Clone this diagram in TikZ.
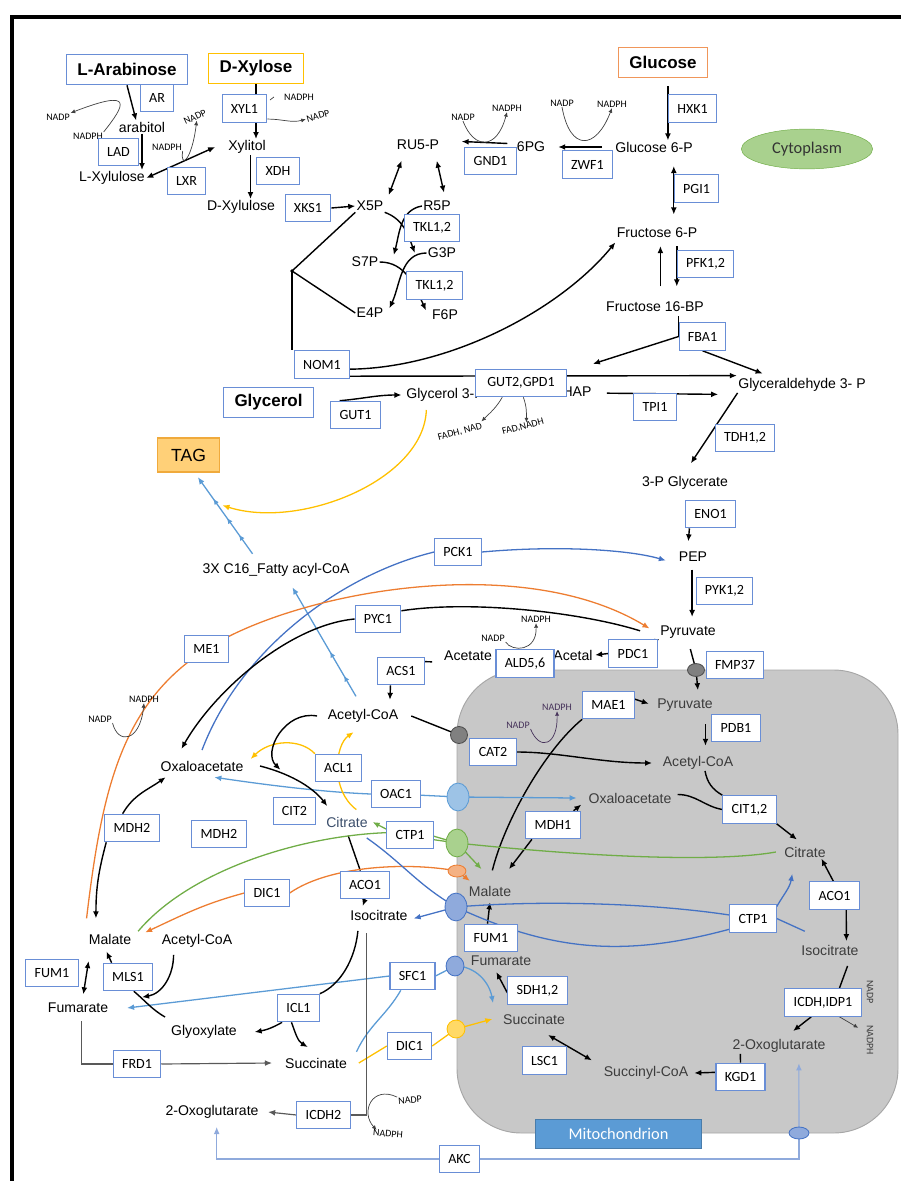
\documentclass[tikz,border=0pt]{standalone}
\usepackage{fontspec}
\setmainfont{Liberation Sans}
\newfontfamily\enzfont{Carlito}
\usepackage{xcolor}
\usepackage{tikz}
\usetikzlibrary{arrows.meta,shapes.geometric,decorations.markings}
\definecolor{boxblue}{RGB}{105,142,214}
\definecolor{pathblue}{RGB}{68,114,196}
\definecolor{lightblue}{RGB}{91,155,213}
\definecolor{midblue}{RGB}{143,170,220}
\definecolor{paleblue}{RGB}{157,195,230}
\definecolor{pathgreen}{RGB}{112,173,71}
\definecolor{palegreen}{RGB}{169,209,142}
\definecolor{pathorange}{RGB}{237,125,49}
\definecolor{salmon}{RGB}{244,177,131}
\definecolor{pathyellow}{RGB}{255,192,0}
\definecolor{paleyellow}{RGB}{255,217,102}
\definecolor{mitogray}{RGB}{200,200,200}
\definecolor{mitoborder}{RGB}{166,166,166}
\definecolor{mitotext}{RGB}{60,60,60}
\definecolor{mitolabel}{RGB}{91,155,213}
\definecolor{citblue}{RGB}{59,78,107}
\definecolor{cofpurple}{RGB}{70,50,90}
\definecolor{glucol}{RGB}{240,150,90}
\definecolor{tagfill}{RGB}{255,208,120}
\definecolor{tagborder}{RGB}{240,170,60}
\pgfdeclarelayer{bg}
\pgfdeclarelayer{edges}
\pgfsetlayers{bg,edges,main}

\begin{document}
\begin{tikzpicture}[
	x=0.03cm, y=-0.03cm,
	>={Latex[length=6pt,width=5pt]},
	met/.style={inner sep=1pt, font=\fontsize{12}{14}\selectfont},
	mito/.style={met, text=mitotext},
	enz/.style={draw=boxblue, fill=white, line width=0.9pt, inner xsep=7.5pt, inner ysep=2pt, minimum height=23.5pt, font=\enzfont\fontsize{12}{14}\selectfont},
	src/.style={draw=#1, fill=white, line width=0.9pt, inner xsep=9.5pt, minimum height=26pt, font=\bfseries\fontsize{14.5}{17}\selectfont},
	cof/.style={inner sep=0.5pt, font=\enzfont\fontsize{8.5}{9}\selectfont},
	port/.style={ellipse, draw=#1, line width=0.7pt, inner sep=0pt},
	rx/.style={->, line width=1.2pt},
	ln/.style={line width=1.2pt},
	cofarr/.style={->, >={Latex[length=4pt,width=3.5pt]}, line width=0.6pt, draw=black!75},
	grn/.style={draw=pathgreen, line width=1.1pt},
	org/.style={draw=pathorange, line width=1.1pt},
	yel/.style={draw=pathyellow, line width=1.1pt},
	pblue/.style={draw=pathblue, line width=1.1pt},
	lblue/.style={draw=lightblue, line width=1.1pt},
	akcline/.style={draw=midblue, line width=0.9pt},
	gline/.style={draw=black!65, line width=1pt}
	]
	\useasboundingbox (0,0) rectangle (901,1181);
	\begin{pgfonlayer}{bg}
		\draw[line width=4pt] (12,1181) -- (12,17) -- (901,17);
		\draw[fill=mitogray, draw=mitoborder, line width=0.8pt, rounded corners=55pt] (457,670) rectangle (898,1133);
	\end{pgfonlayer}

	\node[src=boxblue] (arab) at (127,69.5) {L-Arabinose};
	\node[src=pathyellow] (dxyl) at (256,68.5) {D-Xylose};
	\node[src=glucol] (gluc) at (663,62.5) {Glucose};
	\node[src=boxblue] (glyc) at (268.5,402.5) {Glycerol};
	\node[draw=tagborder, fill=tagfill, line width=0.9pt, minimum width=53pt, minimum height=29pt, font=\fontsize{15}{17}\selectfont] (tag) at (188.5,455) {TAG};
	\node[ellipse, draw=pathgreen, fill=palegreen, minimum width=112pt, minimum height=34pt, font=\enzfont\fontsize{14}{16}\selectfont, text=black!80] (cyto) at (807,149) {Cytoplasm};

	\node[met] (arabitol) at (142,127) {arabitol};
	\node[met] (lxylu) at (112,178) {L-Xylulose};
	\node[met] (xylitol) at (247,147) {Xylitol};
	\node[met] (dxylu) at (241,207) {D-Xylulose};
	\node[met] (ru5p) at (418,145) {RU5-P};
	\node[met] (pg6) at (531,147) {6PG};
	\node[met] (g6p) at (654,147) {Glucose 6-P};
	\node[met] (x5p) at (370,206) {X5P};
	\node[met] (r5p) at (437,206) {R5P};
	\node[met] (s7p) at (365,262) {S7P};
	\node[met] (g3p) at (442,253) {G3P};
	\node[met] (e4p) at (370,313) {E4P};
	\node[met] (f6p) at (445,315) {F6P};
	\node[met] (fru6p) at (657,233) {Fructose 6-P};
	\node[met] (fbp) at (655,307) {Fructose 16-BP};
	\node[met] (gap) at (802,385) {Glyceraldehyde 3- P};
	\node[met, anchor=west] (gly3p) at (405,395) {Glycerol 3-P};
	\node[met, anchor=west] (dhap) at (551,392) {DHAP};
	\node[met] (pga) at (685,483) {3-P Glycerate};
	\node[met] (pep) at (693,557) {PEP};
	\node[met] (pyrc) at (688,632) {Pyruvate};
	\node[met, anchor=west] (acetal) at (552,655) {Acetal};
	\node[met] (acetate) at (468,656) {Acetate};
	\node[met] (fatty) at (276,570) {3X C16\_Fatty acyl-CoA};
	\node[met] (accoac) at (363,716) {Acetyl-CoA};
	\node[met] (oaac) at (202,766) {Oxaloacetate};
	\node[met, text=citblue] (citc) at (347,822) {Citrate};
	\node[met] (isoc) at (379,915) {Isocitrate};
	\node[met] (malc) at (110,939) {Malate};
	\node[met] (accob) at (197,941) {Acetyl-CoA};
	\node[met] (fumarc) at (78,1008) {Fumarate};
	\node[met] (glyox) at (204,1032) {Glyoxylate};
	\node[met] (succc) at (316,1063) {Succinate};
	\node[met] (oxoc) at (212,1112) {2-Oxoglutarate};
	\node[mito] (pyrm) at (685,705) {Pyruvate};
	\node[mito] (accom) at (698,763) {Acetyl-CoA};
	\node[mito] (oaam) at (630,798) {Oxaloacetate};
	\node[mito] (citm) at (805,852) {Citrate};
	\node[mito] (malm) at (490,891) {Malate};
	\node[mito] (isom) at (830,950) {Isocitrate};
	\node[mito] (fumarm) at (501,961) {Fumarate};
	\node[mito] (succm) at (534,1019) {Succinate};
	\node[mito] (succoa) at (646,1073) {Succinyl-CoA};
	\node[mito] (oxom) at (779,1046) {2-Oxoglutarate};

	\node[cof] (arNADP) at (58,117) {NADP};
	\node[cof] (arNADPH) at (88,136) {NADPH};
	\node[cof] (xyNADPH) at (299,97) {NADPH};
	\node[cof, rotate=15] (xyNADP) at (318,116) {NADP};
	\node[cof] (lxNADPH) at (167,147) {NADPH};
	\node[cof, rotate=25] (lxNADP) at (195,117) {NADP};
	\node[cof] (gnNADP) at (463,117) {NADP};
	\node[cof] (gnNADPH) at (507,108) {NADPH};
	\node[cof] (zwNADP) at (562,103) {NADP};
	\node[cof] (zwNADPH) at (612,104) {NADPH};
	\node[cof, rotate=15] (fadh) at (460,432) {FADH, NAD};
	\node[cof, rotate=15] (fad) at (523,427) {FAD,NADH};
	\node[cof] (meNADP) at (100,719) {NADP};
	\node[cof] (meNADPH) at (144,699) {NADPH};
	\node[cof] (alNADP) at (493,638) {NADP};
	\node[cof] (alNADPH) at (536,619) {NADPH};
	\node[cof, text=cofpurple] (maNADPH) at (557,707) {NADPH};
	\node[cof, text=cofpurple] (maNADP) at (518,725) {NADP};
	\node[cof, rotate=5] (ic2NADP) at (410,1100) {NADP};
	\node[cof, rotate=-5] (ic2NADPH) at (388,1134) {NADPH};
	\node[cof, rotate=-90, text=mitotext] (icNADP) at (870,992) {NADP};
	\node[cof, rotate=-90, text=mitotext] (icNADPH) at (870,1040) {NADPH};

	\node[enz] (ar) at (157,98) {AR};
	\node[enz] (xyl1) at (244.5,108.5) {XYL1};
	\node[enz] (lad) at (118.5,152) {LAD};
	\node[enz] (lxr) at (186.5,181) {LXR};
	\node[enz] (xdh) at (278,171) {XDH};
	\node[enz] (xks1) at (308,208) {XKS1};
	\node[enz] (gnd1) at (490.5,161) {GND1};
	\node[enz] (zwf1) at (587.5,164.5) {ZWF1};
	\node[enz] (tkla) at (432,228) {TKL1,2};
	\node[enz] (tklb) at (434.5,285.5) {TKL1,2};
	\node[enz] (hxk1) at (692.5,108.5) {HXK1};
	\node[enz] (pgi1) at (696.5,188.5) {PGI1};
	\node[enz] (pfk) at (705.5,264) {PFK1,2};
	\node[enz] (fba1) at (702.5,336.5) {FBA1};
	\node[enz] (nom1) at (322,364.5) {NOM1};
	\node[enz] (gut1) at (355.5,415) {GUT1};
	\node[enz, minimum width=77pt] (gut2) at (521,383) {GUT2,GPD1};
	\node[enz] (tpi1) at (655,407) {TPI1};
	\node[enz] (tdh) at (745,438) {TDH1,2};
	\node[enz] (eno1) at (710.5,514) {ENO1};
	\node[enz] (pck1) at (458,552) {PCK1};
	\node[enz] (pyk) at (724.5,591) {PYK1,2};
	\node[enz] (pyc1) at (378,619) {PYC1};
	\node[enz] (me1) at (206.5,649) {ME1};
	\node[enz] (pdc1) at (633,653.5) {PDC1};
	\node[enz] (ald) at (525,663.5) {ALD5,6};
	\node[enz] (acs1) at (401,671) {ACS1};
	\node[enz] (fmp37) at (735,665) {FMP37};
	\node[enz] (mae1) at (608.5,705) {MAE1};
	\node[enz] (pdb1) at (736,728) {PDB1};
	\node[enz] (cat2) at (493,752) {CAT2};
	\node[enz] (acl1) at (338.5,768) {ACL1};
	\node[enz] (oac1) at (396,794) {OAC1};
	\node[enz] (cit12) at (749.5,809.5) {CIT1,2};
	\node[enz] (cit2) at (294.5,811) {CIT2};
	\node[enz] (mdha) at (132,828) {MDH2};
	\node[enz] (mdhb) at (219,834) {MDH2};
	\node[enz] (mdh1) at (553,825) {MDH1};
	\node[enz] (ctpc) at (410,835) {CTP1};
	\node[enz] (acoc) at (365,885) {ACO1};
	\node[enz] (dica) at (267,893) {DIC1};
	\node[enz] (acom) at (834.5,895.5) {ACO1};
	\node[enz] (ctpm) at (753,918.5) {CTP1};
	\node[enz] (fumm) at (491,938) {FUM1};
	\node[enz] (fumc) at (52,973) {FUM1};
	\node[enz] (mls1) at (128,977) {MLS1};
	\node[enz] (sfc1) at (412.5,976) {SFC1};
	\node[enz] (sdh) at (537.5,990.5) {SDH1,2};
	\node[enz] (icdh) at (823,1002.5) {ICDH,IDP1};
	\node[enz] (icl1) at (298.5,1008) {ICL1};
	\node[enz] (dicb) at (409.5,1046) {DIC1};
	\node[enz] (lsc1) at (544.5,1060.5) {LSC1};
	\node[enz] (frd1) at (137,1064) {FRD1};
	\node[enz] (kgd1) at (740.5,1077) {KGD1};
	\node[enz] (icdh2) at (323.5,1115) {ICDH2};
	\node[enz] (akc) at (459.5,1159) {AKC};
	\node[fill=mitolabel, draw=mitolabel!80!black, minimum width=142pt, minimum height=24.5pt, text=white, font=\enzfont\fontsize{14}{16}\selectfont] (mitolab) at (618.5,1133.5) {Mitochondrion};

	\node[port=black!70, fill=black!50, minimum width=14.5pt, minimum height=11pt] (tgray) at (696,670) {};
	\node[port=black!70, fill=black!50, minimum width=14.5pt, minimum height=14.5pt] (tcat) at (459,735) {};
	\node[port=lightblue, fill=paleblue, minimum width=18.7pt, minimum height=23.8pt] (toac) at (458,797) {};
	\node[port=pathgreen, fill=palegreen, minimum width=18.7pt, minimum height=23.8pt] (tctp) at (457,843) {};
	\node[port=pathorange, fill=salmon, minimum width=15.3pt, minimum height=10.2pt] (tdic) at (457,871) {};
	\node[port=pathblue, fill=midblue, minimum width=18.7pt, minimum height=23.8pt] (tcit) at (456,907) {};
	\node[port=pathblue, fill=midblue, minimum width=15.3pt, minimum height=17pt] (tsfc) at (455,966) {};
	\node[port=pathyellow, fill=paleyellow, minimum width=15.3pt, minimum height=15.3pt] (tdicb) at (456,1029) {};
	\node[port=pathblue, fill=midblue, minimum width=17pt, minimum height=10.2pt] (takc) at (799,1133) {};
	\coordinate (junc) at (292,271);

	\begin{pgfonlayer}{edges}
		\fill (junc) circle (1.5pt);
		\draw[rx] (arab.south) -- ([xshift=-5pt]arabitol.north);
		\draw[cofarr] (arNADPH.north east) .. controls (125,105) and (135,88) .. (arNADP.north east);
		\draw[rx] (arabitol.south) -- (arabitol.south |- lxylu.north);
		\draw[rx,<->] (lxylu.east) -- ([xshift=-10pt]xylitol.west);
		\draw[cofarr] (lxNADPH.south east) .. controls (180,170) and (192,160) .. (lxNADP.south);
		\draw[rx] (dxyl.south) -- (dxyl.south |- xylitol.north);
		\draw[cofarr] ([yshift=-9pt]xyl1.east) to[out=0,in=195] (xyNADP.west);
		\draw[black!75, line width=0.6pt] ([xshift=-8pt]xyNADPH.west) -- ++(-4,3);
		\draw[rx] ([xshift=-5pt]xdh.west |- xylitol.south) -- ([xshift=-5pt]xdh.west |- dxylu.north);
		\draw[rx] (xks1.east) -- (x5p.west);
		\draw[ln] (x5p.south west) -- (junc);
		\draw[ln] (junc) -- (e4p.west);
		\draw[ln] (junc) -- (junc |- nom1.north);
		\draw[rx,<->] ([shift={(-14pt,-8pt)}]ru5p.south) -- ([shift={(16pt,4pt)}]x5p.north);
		\draw[rx,<->] ([shift={(16pt,-8pt)}]ru5p.south) -- ([shift={(6pt,6pt)}]r5p.north);
		\draw[rx] ([shift={(-7pt,3pt)}]pg6.west) -- ([shift={(18pt,3pt)}]ru5p.east);
		\draw[cofarr] (gnNADP.south) .. controls (474,150) and (497,150) .. (gnNADPH.south);
		\draw[rx] ([xshift=-10pt]g6p.west) -- ([xshift=10pt]pg6.east);
		\draw[cofarr] (zwNADP.south) .. controls (570,152) and (596,150) .. (zwNADPH.south);
		\draw[rx] (x5p.south east) to[out=-20,in=110] ([xshift=-10pt]g3p.west);
		\draw[rx] (r5p.west) to[out=190,in=75] ([shift={(12pt,6pt)}]s7p.east);
		\draw[rx] (s7p.east) to[out=0,in=115] ([shift={(-4pt,4pt)}]f6p.west);
		\draw[rx] (g3p.west) to[out=180,in=65] ([shift={(4pt,4pt)}]e4p.east);
		\draw[rx] ([yshift=7pt]hxk1.north west) -- (hxk1.west |- g6p.north);
		\draw[rx,<->] ([yshift=7pt]pgi1.north west) -- ([yshift=-10pt]pgi1.south west);
		\draw[rx] ([yshift=3pt]pfk.north west) -- ([yshift=-7pt]pfk.south west);
		\draw[->, line width=0.8pt] ([shift={(-14pt,-7pt)}]pfk.south west) -- ([shift={(-14pt,3pt)}]pfk.north west);
		\draw[ln] ([yshift=5pt]fba1.north west) -- (fba1.west);
		\draw[rx] (fba1.west) -- ([yshift=24pt]dhap.east);
		\draw[rx] (fba1.south) -- ([shift={(22pt,3pt)}]gap.north west);
		\draw[rx] ([yshift=-4pt]nom1.east) .. controls (450,368) and (560,310) .. ([yshift=-8pt]fru6p.west);
		\draw[rx] ([yshift=-10pt]nom1.east) -- ([yshift=8pt]gap.west);
		\draw[rx] ([xshift=8pt]gut1.north west) to[out=5,in=180] ([xshift=-3pt]gly3p.west);
		\draw[cofarr] ([xshift=-16pt]gut2.south) to[out=-120,in=45] (fadh.north east);
		\draw[cofarr] ([xshift=2pt]gut2.south) to[out=-70,in=90] ([xshift=4pt]fad.north);
		\draw[rx] ([shift={(12pt,-1pt)}]dhap.east) -- ([shift={(-16pt,-8pt)}]gap.west);
		\draw[rx] ([xshift=-55pt]gap.south) -- ([shift={(5pt,10pt)}]pga.north);
		\draw[rx] ([xshift=-18pt]eno1.south) -- ([shift={(-4pt,8pt)}]pep.north);
		\draw[rx] ([shift={(-3pt,6pt)}]pyk.north west) -- ([shift={(-3pt,-10pt)}]pyk.south west);
		\draw[rx] (pdc1.west) -- ([xshift=1pt]acetal.east);
		\draw[line width=0.6pt] (pyrc.south west) -- ([xshift=-3pt]pdc1.north east);
		\draw[cofarr] (alNADP.south east) .. controls (512,652) and (537,652) .. (alNADPH.south);
		\draw[ln] ([yshift=8pt]acs1.east) -- ([shift={(-9pt,-5pt)}]acetate.west);
		\draw[rx] ([xshift=-9pt]acs1.south) -- ([shift={(23pt,7pt)}]accoac.north);
		\draw[lblue, ->, postaction={decorate}, decoration={markings, mark=at position 0.19 with {\arrow{Latex[length=5pt,width=4.5pt]}}, mark=at position 0.41 with {\arrow{Latex[length=5pt,width=4.5pt]}}}] ([shift={(-6pt,10pt)}]accoac.north) -- ([shift={(14pt,-8pt)}]fatty.south);
		\draw[lblue, ->, postaction={decorate}, decoration={markings, mark=at position 0.25 with {\arrow{Latex[length=5pt,width=4.5pt]}}, mark=at position 0.47 with {\arrow{Latex[length=5pt,width=4.5pt]}}, mark=at position 0.72 with {\arrow{Latex[length=5pt,width=4.5pt]}}}] ([shift={(-20pt,7pt)}]fatty.north) -- ([shift={(8pt,-4pt)}]tag.south);
		\draw[yel, ->] ([shift={(-16pt,-6pt)}]gly3p.south) .. controls (424,480) and (300,530) .. ([shift={(29pt,-28pt)}]tag.south);
		\draw[pblue] ([yshift=8pt]oaac.north) .. controls (240,650) and (340,575) .. (pck1.west);
		\draw[pblue,->] (pck1.east) .. controls (560,545) and (630,550) .. ([shift={(-10pt,-3pt)}]pep.west);
		\draw[org] ([shift={(-20pt,12pt)}]malc.north) .. controls (102,788) and (122,703) .. (me1.center);
		\draw[org,->] (me1.center) .. controls (295,592) and (520,550) .. ([shift={(-8pt,3pt)}]pyrc.west);
		\draw[cofarr] (meNADP.south east) .. controls (118,745) and (140,742) .. (meNADPH.south);
		\draw[ln] ([shift={(-16pt,1pt)}]pyrc.west) .. controls (580,612) and (470,600) .. ([yshift=7pt]pyc1.east);
		\draw[rx] (pyc1.west) .. controls (290,625) and (215,690) .. ([shift={(19pt,9pt)}]oaac.north west);
		\draw[ln] ([xshift=10pt]accoac.east) -- (tcat.center);
		\draw[rx] (cat2.east) .. controls (560,752) and (600,763) .. ([xshift=-8pt]accom.west);
		\draw[rx] ([shift={(2pt,-8pt)}]pyrc.south) -- (tgray.center) -- ([shift={(11pt,6pt)}]pyrm.north);
		\draw[rx] ([yshift=5pt]mae1.east) -- ([shift={(-6pt,1pt)}]pyrm.west);
		\draw[ln] ([shift={(2pt,12pt)}]malm.north) .. controls (505,820) and (545,750) .. (mae1.south west);
		\draw[cofarr, draw=cofpurple] (maNADP.south east) .. controls (540,752) and (558,745) .. (maNADPH.south);
		\draw[rx] ([shift={(-5pt,-9pt)}]pdb1.north west) -- ([shift={(-5pt,-3pt)}]pdb1.south west);
		\draw[lblue,->] (toac.center) -- ([xshift=-9pt]oaam.west);
		\draw[lblue] (toac.center) -- (oac1.center);
		\draw[lblue,->] (oac1.west) .. controls (320,792) and (260,784) .. ([shift={(-26pt,-4pt)}]oaac.south east);
		\draw[ln] ([xshift=6pt]accom.south) to[out=-80,in=150] (cit12.north west);
		\draw[ln] ([shift={(4pt,3pt)}]oaam.east) to[out=0,in=170] (cit12.west);
		\draw[rx] (cit12.south east) -- ([shift={(12pt,5pt)}]citm.north west);
		\draw[rx] ([xshift=-18pt]mdh1.south) -- ([shift={(-3pt,13pt)}]malm.north east);
		\draw[rx] ([xshift=-6pt]mdh1.north east) -- ([xshift=-5pt]oaam.south west);
		\draw[rx] ([xshift=-1pt]acom.north) -- ([xshift=14pt]citm.south);
		\draw[rx] ([xshift=10pt]acom.south) -- ([shift={(14pt,2pt)}]isom.north);
		\draw[ln] ([shift={(15pt,-8pt)}]isom.south) -- ([xshift=14pt]icdh.north);
		\draw[rx] ([xshift=-10pt]icdh.south) -- ([shift={(12pt,6pt)}]oxom.north);
		\draw[cofarr] ([xshift=14pt]icdh.south) -- ([shift={(-10pt,-3pt)}]icNADPH.west);
		\draw[rx] ([yshift=4pt]kgd1.west) -- ([xshift=4pt]succoa.east);
		\draw[ln] (kgd1.north) -- ([xshift=-33pt]oxom.south);
		\draw[rx,<->] ([shift={(12pt,-8pt)}]succm.south) -- ([shift={(-9pt,4pt)}]succoa.north west);
		\draw[rx] ([yshift=-2pt]sdh.west) -- ([shift={(-4pt,-4pt)}]fumarm.south);
		\draw[rx] ([xshift=-3pt]fumm.north) -- ([yshift=-4pt]malm.south);
		\draw[lblue,->] (sfc1.west) -- ([xshift=15pt]fumarc.east);
		\draw[lblue] (sfc1.east) -- (tsfc.center);
		\draw[lblue,->] (tsfc.center) to[out=0,in=100] ([shift={(-35pt,8pt)}]succm.north);
		\draw[lblue] ([shift={(7pt,4pt)}]succc.north east) to[out=65,in=-120] ([xshift=-10pt]sfc1.south);
		\draw[yel] ([xshift=9pt]succc.east) -- (dicb.west);
		\draw[yel] (dicb.east) -- (tdicb.center);
		\draw[yel,->] (tdicb.center) -- ([xshift=-8pt]succm.west);
		\draw[yel,->] ([shift={(8pt,5pt)}]citc.north) .. controls (330,790) and (335,745) .. ([shift={(-8pt,-7pt)}]accoac.south);
		\draw[yel,->] (acl1.north west) .. controls (300,738) and (270,740) .. ([shift={(5pt,6pt)}]oaac.east);
		\draw[rx] ([xshift=-8pt]accoac.west) .. controls (285,710) and (262,752) .. ([shift={(-12pt,23pt)}]cit2.north);
		\draw[rx] ([xshift=13pt]oaac.east) .. controls (295,775) and (315,790) .. ([shift={(2pt,8pt)}]citc.north west);
		\draw[ln] ([shift={(1pt,-6pt)}]citc.south) -- ([xshift=-4pt]acoc.north);
		\draw[rx] (acoc.south) -- ([shift={(-14pt,2pt)}]isoc.north);
		\draw[ln] ([shift={(-18pt,-8pt)}]isoc.south) .. controls (355,960) and (340,985) .. (icl1.north east);
		\draw[rx] ([xshift=-14pt]icl1.south) to[out=-150,in=10] ([xshift=14pt]glyox.east);
		\draw[rx] ([xshift=-6pt]icl1.south) to[out=-70,in=150] ([shift={(-7pt,8pt)}]succc.north);
		\draw[rx] ([xshift=-14pt]mls1.north) -- ([shift={(-3pt,-5pt)}]malc.south);
		\draw[rx] ([shift={(-20pt,-5pt)}]accob.south) to[out=-90,in=10] ([shift={(12pt,-5pt)}]mls1.south);
		\draw[ln] ([shift={(-4pt,6pt)}]glyox.north west) to[out=150,in=-40] ([xshift=5pt]mls1.south);
		\draw[rx,<->] ([shift={(8.5pt,-2pt)}]fumc.north east) -- ([shift={(4pt,-6pt)}]fumc.south east);
		\draw[rx] ([xshift=-8pt]mdha.north) to[out=60,in=-145] ([shift={(-31pt,-4pt)}]oaac.south);
		\draw[rx] ([xshift=-22pt]mdha.south) to[out=-105,in=90] ([shift={(-12pt,12pt)}]malc.north);
		\draw[gline] ([shift={(3pt,-6pt)}]fumarc.south) |- (frd1.west);
		\draw[gline,->] (frd1.east) -- ([xshift=-10pt]succc.west);
		\draw[gline] ([shift={(-11pt,-10pt)}]isoc.south) |- (icdh2.east);
		\draw[gline,->] (icdh2.west) -- ([xshift=7pt]oxoc.east);
		\draw[cofarr] (ic2NADP.north west) .. controls (372,1085) and (360,1112) .. ([xshift=-10pt]ic2NADPH.north);
		\draw[grn,->] ([yshift=5pt]ctpc.west) -- ([xshift=3pt]citc.east);
		\draw[grn] ([yshift=-1pt]ctpc.east) -- (tctp.center);
		\draw[grn] ([yshift=-4pt]ctpc.east) -- (tctp.center);
		\draw[grn,->] (tctp.center) -- ([shift={(12pt,13pt)}]malm.north west);
		\draw[grn] (tctp.center) .. controls (600,858) and (720,862) .. ([xshift=-6pt]citm.west);
		\draw[grn] ([yshift=2pt]ctpc.west) .. controls (300,836) and (190,870) .. ([shift={(24pt,1pt)}]malc.north);
		\draw[org,->] (tdic.center) -- ([shift={(2pt,3pt)}]malm.north west);
		\draw[org] (tdic.center) .. controls (410,862) and (330,865) .. (dica.east);
		\draw[org,->] (dica.west) to[out=195,in=25] ([xshift=30pt]malc.north);
		\draw[pblue] ([shift={(-2pt,-8pt)}]citc.south east) to[out=-35,in=150] (tcit.center) to[out=-25,in=195] ([yshift=3pt]ctpm.south west);
		\draw[pblue] ([shift={(4pt,16pt)}]isom.west) -- (ctpm.east);
		\draw[pblue,->] ([yshift=-2pt]ctpm.north east) to[out=60,in=-100] ([shift={(8pt,-13pt)}]citm.south west);
		\draw[pblue] ([yshift=3pt]ctpm.west) .. controls (650,903) and (540,900) .. (tcit.center);
		\draw[pblue,->] (tcit.center) -- ([shift={(4pt,-3pt)}]isoc.east);
		\draw[akcline,->] (takc.center) -- ([shift={(17pt,-8pt)}]oxom.south);
		\draw[akcline] (takc.center) |- (akc.east);
		\draw[akcline,->] (akc.west) -| ([shift={(4pt,-6pt)}]oxoc.south);
	\end{pgfonlayer}
\end{tikzpicture}
\end{document}
